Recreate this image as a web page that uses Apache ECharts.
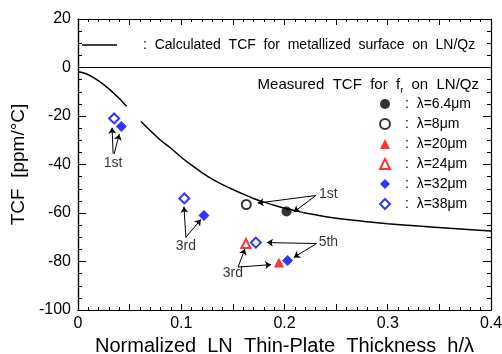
<!DOCTYPE html>
<html>
<head>
<meta charset="utf-8">
<script src="https://cdn.jsdelivr.net/npm/echarts@6/dist/echarts.min.js"></script>
<style>
  html, body { margin: 0; padding: 0; background: #fff; }
  #chart { width: 502px; height: 354px; }
</style>
</head>
<body>
<div id="chart"></div>
<script>
// Calculated TCF curve for the metallized surface (h/λ, ppm/°C); null breaks the line
const calcCurve = [
  [0, -1.8], [0.005, -2.2], [0.01, -3.0], [0.02, -5.5], [0.03, -8.8],
  [0.04, -12.8], [0.047, -16.0], [0.054, null], [0.061, -22.3], [0.07, -26.0],
  [0.08, -30.0], [0.09, -33.3], [0.1, -37.0], [0.11, -40.3], [0.12, -43.3],
  [0.13, -46.0], [0.14, -48.3], [0.15, -50.3], [0.16, -52.2], [0.17, -54.0],
  [0.18, -55.5], [0.19, -56.8], [0.2, -58.0], [0.21, -59.0], [0.22, -60.0],
  [0.24, -61.5], [0.26, -62.7], [0.28, -63.6], [0.3, -64.4], [0.33, -65.4],
  [0.36, -66.3], [0.4, -67.4]
];

// Measured TCF for fr, one list per wavelength
const lambda64 = [[0.202, -59.4]];
const lambda8  = [[0.163, -56.5]];
const lambda20 = [[0.1946, -80.4]];
const lambda24 = [[0.1626, -72.6]];
const lambda32 = [[0.042, -24.3], [0.122, -61.0], [0.203, -79.6]];
const lambda38 = [[0.035, -21.0], [0.103, -54.0], [0.1723, -72.2]];

// Mode annotations: label text and where it sits
const noteLabels = [
  { name: '1st', value: [0.034, -39.6] },
  { name: '3rd', value: [0.1045, -73.6] },
  { name: '1st', value: [0.2425, -52.2] },
  { name: '5th', value: [0.2425, -72.0] },
  { name: '3rd', value: [0.150, -85.0] }
];

// Arrows from each label to its measured points: [from, to]
const noteArrows = [
  [[0.034, -35.6], [0.033, -24.8]],
  [[0.035, -35.6], [0.040, -27.5]],
  [[0.1045, -70.0], [0.1026, -57.4]],
  [[0.1045, -70.0], [0.119, -62.7]],
  [[0.2304, -52.8], [0.174, -55.9]],
  [[0.2304, -52.8], [0.209, -59.6]],
  [[0.231, -72.6], [0.183, -72.2]],
  [[0.231, -72.6], [0.209, -78.3]],
  [[0.155, -82.3], [0.1617, -74.8]],
  [[0.155, -82.3], [0.187, -81.3]]
];

const xTicks = { min: 0, max: 0.4, step: 0.05 };
const yTicks = { min: -100, max: 20, step: 20 };

const FONT = "'Liberation Sans', Arial, sans-serif";
const BLUE = '#0000ff';
const RED = '#ff0000';

const chart = echarts.init(document.getElementById('chart'), null, { renderer: 'canvas' });

function xLabel(v) {
  const r = Math.round(v * 100);
  if (r % 10 !== 0) return '';
  return r === 0 ? '0' : (r / 100).toFixed(1);
}

const plotBox = { left: 78, right: 11, top: 19, bottom: 44, outerBoundsMode: 'none' };

// Frame axes on the overlay grid: plain boxes with inward ticks on all four sides
function frameAxis(dir, position) {
  const isX = dir === 'x';
  const range = isX ? xTicks : yTicks;
  return {
    type: 'value',
    gridIndex: 1,
    position: position,
    min: range.min, max: range.max, interval: range.step,
    axisLine: { show: true, onZero: false, lineStyle: { color: '#000', width: 1.2 } },
    axisTick: { show: true, inside: true, length: isX ? 6 : 8, lineStyle: { color: '#000', width: 1 } },
    minorTick: { show: true, splitNumber: isX ? 5 : 4, length: isX ? 3 : 4, lineStyle: { color: '#000', width: 1 } },
    axisLabel: { show: false },
    splitLine: { show: false }
  };
}

function measured(name, data, symbol, color, size) {
  return {
    name: name,
    type: 'scatter',
    data: data,
    symbol: symbol,
    symbolSize: size,
    itemStyle: { color: color, borderWidth: 1.3 },
    z: 5
  };
}

chart.setOption({
  animation: false,
  backgroundColor: '#fff',
  grid: [Object.assign({}, plotBox), Object.assign({}, plotBox)],
  graphic: [{
    type: 'text',
    right: 23,
    top: 75,
    style: {
      text: '{a|Measured  TCF  for  f}{s|r}{a|  on  LN/Qz}',
      rich: {
        a: { fontFamily: FONT, fontSize: 15, lineHeight: 20, fill: '#000', color: '#000' },
        s: { fontFamily: FONT, fontSize: 9, lineHeight: 9, padding: [11, 0, 0, 0], fill: '#000', color: '#000' }
      }
    }
  }],
  legend: [
    {
      data: [{ name: 'Calculated', icon: 'rect' }],
      left: 82,
      top: 38,
      padding: 0,
      itemWidth: 35,
      itemHeight: 1.5,
      itemStyle: { color: '#000' },
      formatter: () => '{t|:  Calculated  TCF  for  metallized  surface  on  LN/Qz}',
      textStyle: {
        rich: { t: { fontFamily: FONT, fontSize: 14, color: '#000', padding: [0, 0, 0, 21] } }
      },
      selectedMode: false
    },
    {
      data: ['λ=6.4μm', 'λ=8μm', 'λ=20μm', 'λ=24μm', 'λ=32μm', 'λ=38μm'],
      orient: 'vertical',
      left: 379,
      top: 97,
      padding: 0,
      itemGap: 6,
      itemWidth: 10,
      itemHeight: 10,
      formatter: (n) => '{t|:  ' + n + '}',
      textStyle: {
        rich: { t: { fontFamily: FONT, fontSize: 14, color: '#000', padding: [0, 0, 0, 10] } }
      },
      selectedMode: false
    }
  ],
  xAxis: [
    {
      type: 'value',
      gridIndex: 0,
      position: 'bottom',
      min: xTicks.min, max: xTicks.max, interval: xTicks.step,
      name: 'Normalized  LN  Thin-Plate  Thickness  h/λ',
      nameLocation: 'middle',
      nameGap: 20,
      nameTextStyle: { fontFamily: FONT, fontSize: 20, color: '#000' },
      axisLine: { show: true, onZero: false, lineStyle: { color: '#000', width: 1.2 } },
      axisTick: { show: false },
      axisLabel: { show: true, formatter: xLabel, fontFamily: FONT, fontSize: 16, color: '#000', margin: 6 },
      splitLine: { show: false }
    },
    frameAxis('x', 'bottom'),
    frameAxis('x', 'top')
  ],
  yAxis: [
    {
      type: 'value',
      gridIndex: 0,
      position: 'left',
      min: yTicks.min, max: yTicks.max, interval: yTicks.step,
      name: 'TCF  [ppm/°C]',
      nameLocation: 'middle',
      nameGap: 38,
      nameTextStyle: { fontFamily: FONT, fontSize: 19, color: '#000' },
      axisLine: { show: true, onZero: false, lineStyle: { color: '#000', width: 1.2 } },
      axisTick: { show: false },
      axisLabel: { show: true, fontFamily: FONT, fontSize: 16, color: '#000', margin: 7 },
      splitLine: { show: false }
    },
    frameAxis('y', 'left'),
    frameAxis('y', 'right')
  ],
  series: [
    {
      name: 'Calculated',
      type: 'line',
      data: calcCurve,
      symbol: 'none',
      connectNulls: false,
      smooth: 0.3,
      lineStyle: { color: '#000', width: 1.5 },
      itemStyle: { color: '#000' },
      markLine: {
        silent: true,
        symbol: ['none', 'none'],
        label: { show: false },
        lineStyle: { color: '#000', width: 1.2, type: 'solid' },
        data: [{ yAxis: 0 }]
      }
    },
    measured('λ=6.4μm', lambda64, 'circle', '#000', 10),
    measured('λ=8μm', lambda8, 'emptyCircle', '#000', 9),
    measured('λ=20μm', lambda20, 'triangle', RED, 10),
    measured('λ=24μm', lambda24, 'emptyTriangle', RED, 9),
    measured('λ=32μm', lambda32, 'diamond', BLUE, 11),
    measured('λ=38μm', lambda38, 'emptyDiamond', BLUE, 10),
    {
      name: 'notes',
      type: 'scatter',
      xAxisIndex: 1,
      yAxisIndex: 1,
      data: noteLabels,
      symbolSize: 0,
      itemStyle: { color: '#000' },
      label: {
        show: true,
        position: 'inside',
        formatter: '{b}',
        fontFamily: FONT,
        fontSize: 14,
        color: '#000'
      },
      markLine: {
        silent: true,
        symbol: ['none', 'arrow'],
        symbolSize: 6,
        label: { show: false },
        lineStyle: { color: '#000', width: 1, type: 'solid' },
        data: noteArrows.map(([a, b]) => [{ coord: a }, { coord: b }])
      },
      z: 4
    }
  ]
});
</script>
</body>
</html>
